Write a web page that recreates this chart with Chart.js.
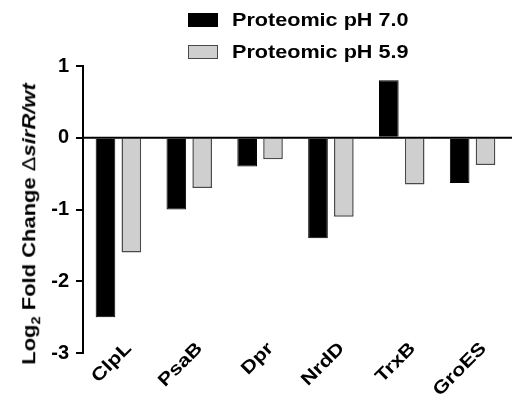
<!DOCTYPE html>
<html>
<head>
<meta charset="utf-8">
<script src="https://cdn.jsdelivr.net/npm/chart.js@4"></script>
<style>
  html, body { margin: 0; padding: 0; background: #fff; }
  #wrap { position: relative; width: 519px; height: 402px; font-family: 'Liberation Sans', Arial, sans-serif; font-weight: bold; color: #000; }
  #wrap canvas { position: absolute; left: 0; top: 0; }
  #legend { position: absolute; left: 188px; top: 4px; }
  .item { display: flex; align-items: center; height: 32px; }
  .box { display: inline-block; width: 30px; height: 14px; box-sizing: border-box; margin-right: 14px; }
  .lab { display: inline-block; font-size: 18px; transform: scaleX(1.2); transform-origin: left center; white-space: nowrap; }
  #ytitle { position: absolute; left: 31px; top: 224px; font-size: 18px; white-space: nowrap;
            transform: translate(-50%, -50%) rotate(-90deg) scaleX(1.22); }
  #ytitle .d { font-weight: normal; }
  .xlab { position: absolute; left: 0; top: 0; font-size: 18px; white-space: nowrap; line-height: 1;
          transform-origin: 100% 50%; transform: translate(-100%, -50%) rotate(-45deg) scaleX(1.2); }
</style>
</head>
<body>
<div id="wrap">
  <canvas id="chart" width="519" height="402"></canvas>
  <div id="legend">
    <div class="item"><span class="box"></span><span class="lab"></span></div>
    <div class="item"><span class="box"></span><span class="lab"></span></div>
  </div>
  <div id="ytitle">Log<sub style="font-size:12px">2</sub> Fold Change <span class="d">&#916;</span><i>sirR/wt</i></div>
  <div class="xlab"></div><div class="xlab"></div><div class="xlab"></div>
  <div class="xlab"></div><div class="xlab"></div><div class="xlab"></div>
</div>
<script>
const categories = ['ClpL', 'PsaB', 'Dpr', 'NrdD', 'TrxB', 'GroES'];
const ph70 = [-2.5, -1.0, -0.4, -1.4, 0.8, -0.63];
const ph59 = [-1.6, -0.7, -0.3, -1.1, -0.65, -0.38];
const seriesNames = ['Proteomic pH 7.0', 'Proteomic pH 5.9'];
const yTicks = [1, 0, -1, -2, -3];

const tickFont = { family: "'Liberation Sans', Arial, sans-serif", weight: 'bold', size: 20 };

// horizontal line at y = 0 across the plot
const zeroLine = {
  id: 'zeroLine',
  afterDatasetsDraw(chart) {
    const { ctx, chartArea, scales: { y } } = chart;
    const py = y.getPixelForValue(0);
    ctx.save();
    ctx.strokeStyle = '#000';
    ctx.lineWidth = 2;
    ctx.beginPath();
    ctx.moveTo(chartArea.left, py);
    ctx.lineTo(chartArea.right + 4, py);
    ctx.stroke();
    ctx.restore();
  }
};

const chart = new Chart(document.getElementById('chart'), {
  type: 'bar',
  data: {
    labels: categories,
    datasets: [
      { label: seriesNames[0], data: ph70, backgroundColor: '#000', borderColor: '#000', borderWidth: 1 },
      { label: seriesNames[1], data: ph59, backgroundColor: '#cfcfcf', borderColor: '#4a4a4a', borderWidth: 1.5 }
    ]
  },
  options: {
    responsive: false,
    animation: false,
    devicePixelRatio: 1,
    datasets: { bar: { categoryPercentage: 0.73, barPercentage: 0.76 } },
    layout: { padding: { left: 10, right: 11, top: 66, bottom: 0 } },
    plugins: { legend: { display: false }, tooltip: { enabled: false } },
    scales: {
      x: {
        offset: true,
        grid: { display: false },
        border: { display: false },
        ticks: { display: false },
        afterFit: s => { s.height = 49; }
      },
      y: {
        min: -3, max: 1,
        afterBuildTicks: s => { s.ticks = yTicks.map(v => ({ value: v })); },
        ticks: { font: tickFont, color: '#000', padding: 7 },
        grid: { drawOnChartArea: false, color: '#000', lineWidth: 2, tickLength: 7 },
        border: { color: '#000', width: 2 },
        afterFit: s => { s.width = 73; }
      }
    }
  },
  plugins: [zeroLine]
});

// slanted category labels, placed at the x scale's tick positions
const xs = chart.scales.x;
document.querySelectorAll('.xlab').forEach((el, i) => {
  el.textContent = chart.data.labels[i];
  el.style.left = (xs.getPixelForValue(i) + 10) + 'px';
  el.style.top = (chart.chartArea.bottom - 8) + 'px';
});

// two-row legend like the original figure
document.querySelectorAll('#legend .item').forEach((item, i) => {
  const ds = chart.data.datasets[i];
  const box = item.querySelector('.box');
  box.style.background = ds.backgroundColor;
  box.style.border = '1.5px solid ' + ds.borderColor;
  item.querySelector('.lab').textContent = ds.label;
});
</script>
</body>
</html>
